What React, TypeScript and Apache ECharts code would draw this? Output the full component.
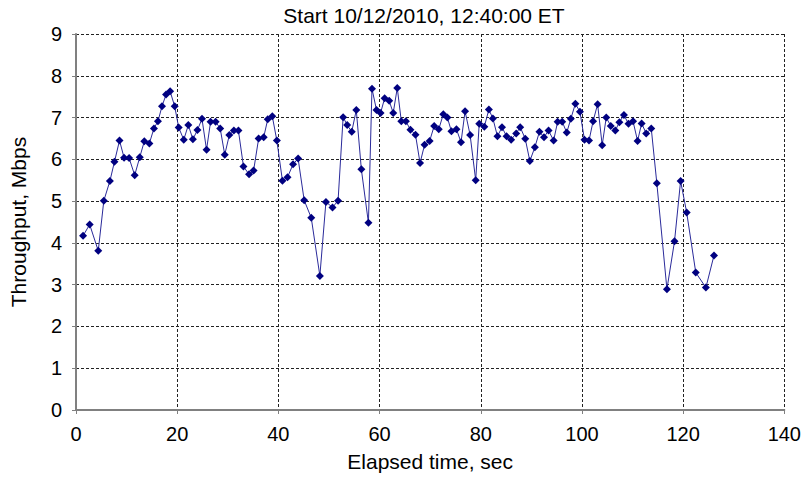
import React, { useEffect, useRef } from "react";
import * as echarts from "echarts";

const titleText = "Start 10/12/2010, 12:40:00 ET";
const xAxisName = "Elapsed time, sec";
const yAxisName = "Throughput, Mbps";

const elapsedSec = [
  1.4, 2.7, 4.4, 5.5, 6.7, 7.6, 8.6, 9.5, 10.5, 11.6,
  12.6, 13.5, 14.5, 15.4, 16.2, 17.0, 17.8, 18.6, 19.5, 20.3,
  21.3, 22.2, 23.1, 24.0, 24.9, 25.8, 26.6, 27.6, 28.5, 29.4,
  30.3, 31.2, 32.1, 33.1, 34.2, 35.1, 36.1, 37.1, 37.9, 38.8,
  39.7, 40.8, 41.8, 42.9, 43.9, 45.1, 46.5, 48.2, 49.4, 50.7,
  51.8, 52.8, 53.6, 54.5, 55.4, 56.4, 57.8, 58.5, 59.4, 60.2,
  61.0, 61.9, 62.7, 63.5, 64.3, 65.2, 66.1, 67.1, 68.0, 68.9,
  69.9, 70.8, 71.7, 72.6, 73.4, 74.2, 75.2, 76.1, 76.9, 77.9,
  79.0, 79.7, 80.7, 81.6, 82.4, 83.3, 84.2, 85.1, 86.0, 87.0,
  87.8, 88.8, 89.7, 90.7, 91.6, 92.5, 93.4, 94.4, 95.2, 96.1,
  97.0, 97.8, 98.7, 99.6, 100.5, 101.4, 102.2, 103.1, 104.0, 104.8,
  105.7, 106.6, 107.4, 108.3, 109.2, 110.1, 111.0, 111.8, 112.7, 113.7,
  114.8, 116.8, 118.3, 119.5, 120.7, 122.5, 124.5, 126.1,
];

const throughputMbps = [
  4.17, 4.44, 3.81, 5.01, 5.48, 5.94, 6.45, 6.04, 6.03, 5.62,
  6.05, 6.43, 6.38, 6.74, 6.91, 7.27, 7.55, 7.63, 7.27, 6.76,
  6.47, 6.82, 6.48, 6.70, 6.97, 6.23, 6.90, 6.90, 6.74, 6.11,
  6.58, 6.69, 6.69, 5.83, 5.64, 5.73, 6.50, 6.53, 6.96, 7.03,
  6.45, 5.49, 5.57, 5.88, 6.02, 5.02, 4.60, 3.21, 4.98, 4.85,
  5.01, 7.01, 6.82, 6.66, 7.18, 5.76, 4.48, 7.69, 7.18, 7.11,
  7.46, 7.40, 7.11, 7.71, 6.91, 6.91, 6.71, 6.59, 5.91, 6.35,
  6.44, 6.80, 6.72, 7.08, 7.00, 6.67, 6.72, 6.41, 7.15, 6.58,
  5.50, 6.85, 6.78, 7.19, 6.98, 6.55, 6.77, 6.55, 6.47, 6.62,
  6.77, 6.49, 5.96, 6.29, 6.66, 6.53, 6.69, 6.45, 6.90, 6.90,
  6.64, 6.97, 7.33, 7.14, 6.47, 6.45, 6.91, 7.32, 6.34, 7.00,
  6.80, 6.69, 6.89, 7.06, 6.85, 6.91, 6.44, 6.86, 6.62, 6.74,
  5.43, 2.89, 4.04, 5.48, 4.73, 3.29, 2.93, 3.70,
];

const FONT = "'Liberation Sans', Arial, sans-serif";

export default function App() {
  const ref = useRef<HTMLDivElement>(null);
  useEffect(() => {
    if (!ref.current) return;
    const chart = echarts.init(ref.current, null, { renderer: "svg" });
    const data = elapsedSec.map((x, i) => [x, throughputMbps[i]]);
    chart.setOption({
      animation: false,
      backgroundColor: "#ffffff",
      textStyle: { fontFamily: FONT },
      graphic: [
        {
          type: "text",
          x: 424,
          y: 15,
          style: {
            text: titleText,
            fontFamily: FONT,
            fontSize: 21,
            fill: "#000",
            textAlign: "center",
            textVerticalAlign: "middle",
          },
        },
      ],
      grid: { left: 75, right: 16, top: 34, bottom: 69, containLabel: false },
      xAxis: {
        type: "value",
        min: 0,
        max: 140,
        interval: 20,
        name: xAxisName,
        nameLocation: "middle",
        nameGap: 41,
        nameTextStyle: { fontFamily: FONT, fontSize: 21, color: "#000" },
        axisLine: { show: true, onZero: false, lineStyle: { color: "#808080", width: 2 } },
        axisTick: { show: true, length: 4, lineStyle: { color: "#808080", width: 1 } },
        axisLabel: { fontFamily: FONT, fontSize: 20, color: "#000", margin: 14 },
        splitLine: { show: true, lineStyle: { color: "#222", width: 1, type: [3, 2] } },
      },
      yAxis: {
        type: "value",
        min: 0,
        max: 9,
        interval: 1,
        name: yAxisName,
        nameLocation: "middle",
        nameGap: 47,
        nameTextStyle: { fontFamily: FONT, fontSize: 21, color: "#000" },
        axisLine: { show: true, lineStyle: { color: "#808080", width: 2 } },
        axisTick: { show: true, length: 4, lineStyle: { color: "#808080", width: 1 } },
        axisLabel: { fontFamily: FONT, fontSize: 20, color: "#000", margin: 14 },
        splitLine: { show: true, lineStyle: { color: "#222", width: 1, type: [3, 2] } },
      },
      series: [
        {
          type: "line",
          data,
          symbol: "diamond",
          symbolSize: 8,
          showSymbol: true,
          itemStyle: { color: "#000080" },
          lineStyle: { color: "#2a2a9a", width: 1 },
        },
      ],
    });
    return () => chart.dispose();
  }, []);
  return (
    <div
      ref={ref}
      style={{ position: "fixed", left: 0, top: 0, width: 804, height: 479, background: "#fff" }}
    />
  );
}
